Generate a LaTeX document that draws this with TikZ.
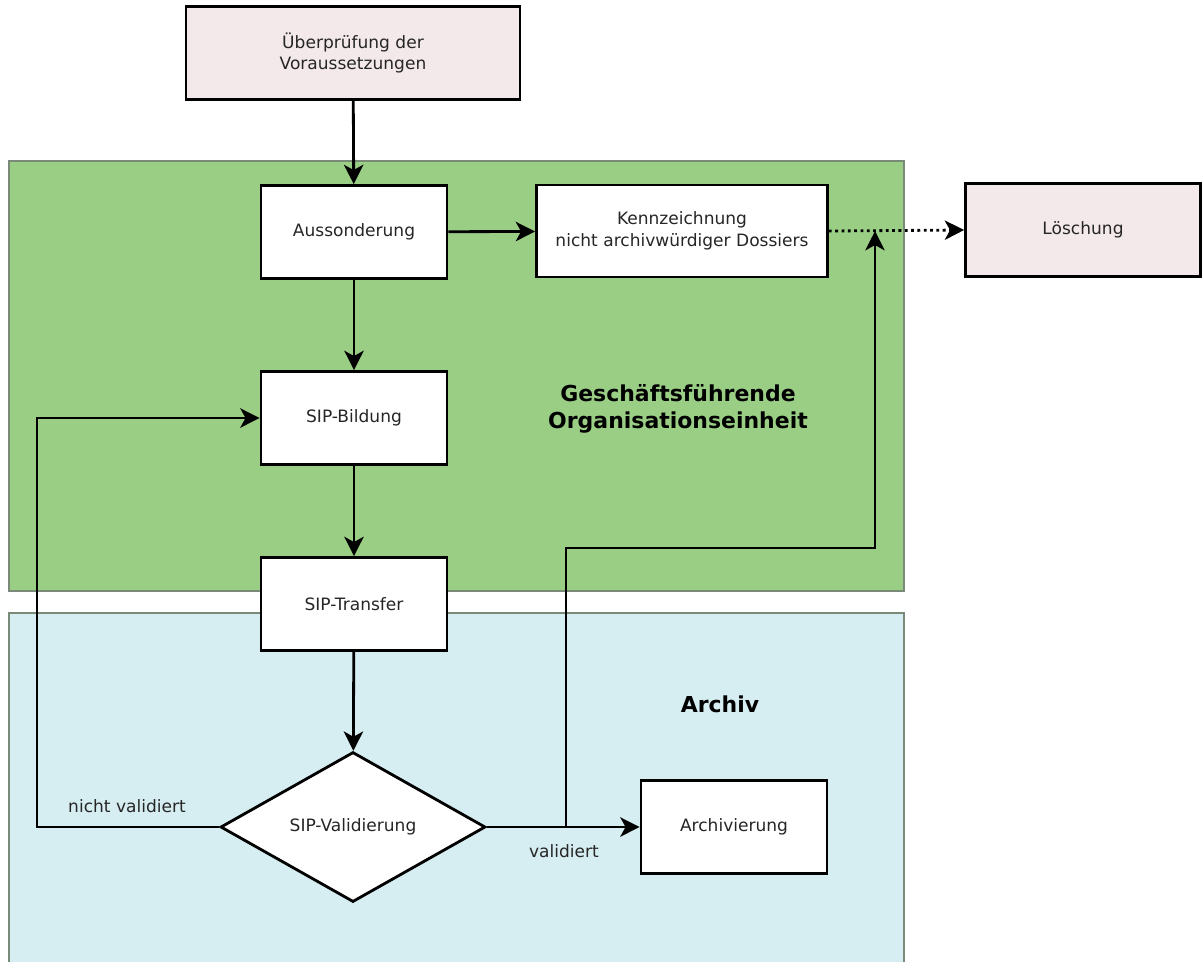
\documentclass[tikz,border=0pt]{standalone}
\usepackage{fontspec}
\setmainfont{DejaVu Sans}
\usetikzlibrary{shapes.geometric,arrows.meta}
\definecolor{rosa}{HTML}{F3E9EA}
\definecolor{gruen}{HTML}{9ACE85}
\definecolor{hellblau}{HTML}{D6EEF2}
\definecolor{rahmen}{HTML}{7A8A78}
\begin{document}
\begin{tikzpicture}[x=0.02cm,y=-0.02cm,
    box/.style={draw,line width=1.6pt,fill=white,align=center,font=\fontsize{9.7}{12.5}\selectfont,
        text=black!85,minimum width=3.72cm,minimum height=1.86cm,inner sep=2pt},
    raute/.style={draw,line width=1.6pt,fill=white,diamond,font=\fontsize{9.7}{12.5}\selectfont,
        text=black!85,minimum width=5.3cm,minimum height=3cm,inner sep=0pt},
    pfeil/.style={line width=1.6pt,-{Stealth[length=11pt,width=11pt,inset=3pt]}},
    zone/.style={draw=rahmen,line width=0.6pt},
    titel/.style={font=\fontsize{12.5}{15}\selectfont\bfseries,align=center},
    label/.style={font=\fontsize{9.7}{12}\selectfont,text=black!85}]
    \useasboundingbox (0,0) rectangle (1203,961);

    % Bereiche
    \fill[hellblau] (9,613) rectangle (904,965);
    \draw[zone] (9,965) -- (9,613) -- (904,613) -- (904,965);
    \draw[zone,fill=gruen] (9,161) rectangle (904,591);
    \node[titel] (geo) at (678,409) {Geschäftsführende\\Organisationseinheit};
    \node[titel] (arc) at (720,704) {Archiv};

    % Knoten
    \node[box,fill=rosa,minimum width=6.68cm] (pruef) at (353,53) {Überprüfung der\\Voraussetzungen};
    \node[box] (auss) at (354,232) {Aussonderung};
    \node[box,minimum width=5.82cm,minimum height=1.84cm] (kenn) at (682,231) {Kennzeichnung\\nicht archivwürdiger Dossiers};
    \node[box,fill=rosa,minimum width=4.7cm] (loesch) at (1083,230) {Löschung};
    \node[box] (bild) at (354,418) {SIP-Bildung};
    \node[box] (trans) at (354,604) {SIP-Transfer};
    \node[raute] (val) at (353,827) {SIP-Validierung};
    \node[box] (arch) at (734,827) {Archivierung};

    % Hilfspunkte
    \coordinate (r1) at (37,827);
    \coordinate (j1) at (566,827);
    \coordinate (k1) at (566,548);
    \coordinate (k2) at (875,548);
    \coordinate (j2) at (875,231);

    % Verbindungen
    \draw[pfeil] (pruef) -- (auss);
    \draw[pfeil] (auss) -- (kenn);
    \draw[pfeil] (auss) -- (bild);
    \draw[pfeil] (bild) -- (trans);
    \draw[pfeil] (trans) -- (val);
    \draw[pfeil] (val.west) -- (r1) |- (bild.west);
    \draw[pfeil] (val.east) -- (arch.west);
    \draw[pfeil] (j1) -- (k1) -- (k2) -- (j2);
    \draw[pfeil,dotted] (kenn.east) -- (loesch.west);

    \node[label] (nv) at (127,806) {nicht validiert};
    \node[label] (v) at (564,851) {validiert};
\end{tikzpicture}
\end{document}
